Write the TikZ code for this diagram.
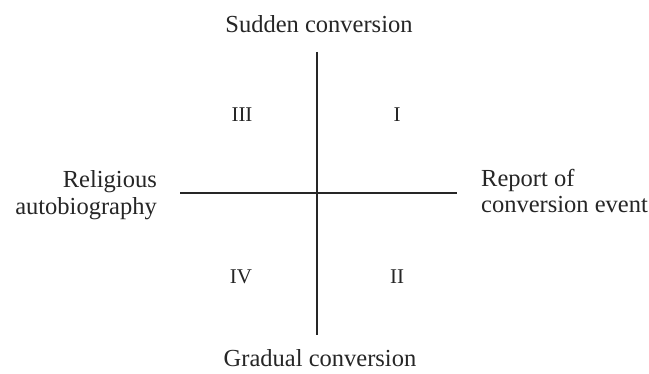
\documentclass[tikz,border=0pt]{standalone}
\usepackage{fontspec}
\setmainfont{Liberation Serif}
\begin{document}
\begin{tikzpicture}[x=1pt,y=-1pt,
  axis/.style={line width=2pt,draw=black!85},
  lbl/.style={inner sep=0pt,font=\fontsize{24.5}{27}\selectfont,text=black!85},
  quad/.style={inner sep=0pt,font=\fontsize{21}{24}\selectfont,text=black!85}]
\useasboundingbox[fill=white] (0,0) rectangle (649,374);
\coordinate (top) at (317,52);
\coordinate (bot) at (317,335);
\coordinate (lft) at (180,193);
\coordinate (rgt) at (457,193);
\draw[axis] (top) -- (bot);
\draw[axis] (lft) -- (rgt);
\node[lbl,anchor=base] (sudden) at (319,33) {Sudden conversion};
\node[lbl,anchor=base] (gradual) at (320,367) {Gradual conversion};
\node[lbl,anchor=base east] (rel1) at (157,188) {Religious};
\node[lbl,anchor=base east] (rel2) at (157,215) {autobiography};
\node[lbl,anchor=base west] (rep1) at (481,187) {Report of};
\node[lbl,anchor=base west] (rep2) at (481,213) {conversion event};
\node[quad] (q3) at (242,115) {III};
\node[quad] (q1) at (397,115) {I};
\node[quad] (q4) at (241,277) {IV};
\node[quad] (q2) at (397,277) {II};
\end{tikzpicture}
\end{document}
